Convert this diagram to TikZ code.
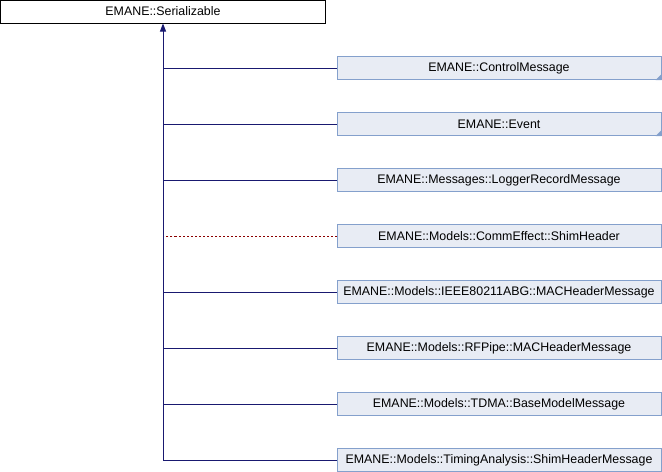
\documentclass[tikz,border=0pt]{standalone}
\usepackage{fontspec}
\setmainfont{Liberation Sans}
\usetikzlibrary{arrows.meta}
\definecolor{boxfill}{HTML}{E8ECF4}
\definecolor{boxline}{HTML}{84A0CC}
\definecolor{edgeblue}{HTML}{191970}
\definecolor{edgered}{HTML}{8B0000}
\tikzset{
  cls/.style={draw=boxline, fill=boxfill, line width=0.75pt, minimum width=324*0.75pt, minimum height=23*0.75pt, inner sep=0pt, font=\fontsize{9.3}{11}\selectfont},
  basecls/.style={draw=black, fill=white, line width=0.75pt, minimum width=325*0.75pt, minimum height=23*0.75pt, inner sep=0pt, font=\fontsize{9.3}{11}\selectfont},
  pub/.style={draw=edgeblue, line width=0.75pt},
  priv/.style={draw=edgered, line width=0.75pt, dash pattern=on 1.5pt off 1.5pt},
  fold/.style={fill=boxline, draw=none}
}
\begin{document}
\begin{tikzpicture}[x=0.75pt, y=-0.75pt]
\useasboundingbox (0,0) rectangle (662,472);
\node[basecls] (base) at (163,11.5) {EMANE::Serializable};
\node[cls] (c1) at (499,68) {EMANE::ControlMessage};
\node[cls] (c2) at (499,124) {EMANE::Event};
\node[cls] (c3) at (499,180) {EMANE::Messages::LoggerRecordMessage};
\node[cls] (c4) at (499,236) {EMANE::Models::CommEffect::ShimHeader};
\node[cls] (c5) at (499,292) {EMANE::Models::IEEE80211ABG::MACHeaderMessage};
\node[cls] (c6) at (499,348) {EMANE::Models::RFPipe::MACHeaderMessage};
\node[cls] (c7) at (499,404) {EMANE::Models::TDMA::BaseModelMessage};
\node[cls] (c8) at (499,460) {EMANE::Models::TimingAnalysis::ShimHeaderMessage};
% folded corners
\fill[boxline] (c1.south east) -- ++(0,-6) -- ++(-6,6) -- cycle;
\fill[boxline] (c2.south east) -- ++(0,-6) -- ++(-6,6) -- cycle;
% connectors
\foreach \c in {c1,c2,c3,c5,c6,c7,c8}
  \draw[pub] (\c.west) -- (\c.west -| base.south);
\draw[priv] (c4.west) -- (c4.west -| base.south);
\draw[pub, -{Triangle[length=6pt, width=4.5pt]}] (c8.west -| base.south) -- (base.south);
\end{tikzpicture}
\end{document}
